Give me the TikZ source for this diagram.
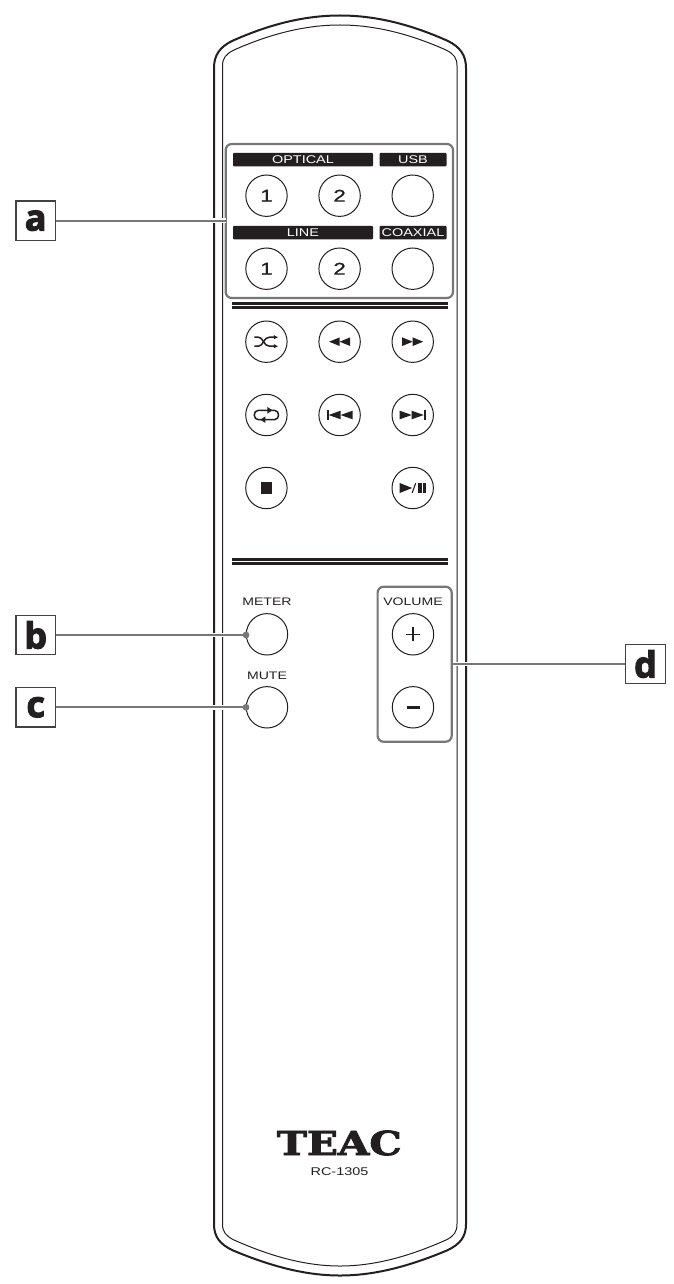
\documentclass[tikz,border=0pt]{standalone}
\usepackage{fontspec}
\usepackage{graphicx}
\setmainfont{Liberation Sans}
\newfontfamily\widesans[FakeStretch=1.29]{Liberation Sans}
\newfontfamily\digitfont[FakeStretch=1.3,FakeBold=1.3]{Liberation Sans}
\newfontfamily\tagfont[FakeBold=3]{Open Sans}
\newfontfamily\logofont[FakeBold=2.5]{DejaVu Serif}
\usetikzlibrary{arrows.meta}
\definecolor{ink}{HTML}{231F20}
\definecolor{callout}{HTML}{777777}
\tikzset{
  bodyline/.style={draw=ink,line width=2pt},
  innerline/.style={draw=ink,line width=1pt},
  btn/.style={circle,draw=ink,line width=1pt,minimum size=41.4pt,inner sep=0pt,font=\digitfont\fontsize{17}{17}\selectfont,text=ink},
  barlabel/.style={fill=ink,rounded corners=1pt,inner sep=0pt,text=white,font=\widesans\fontsize{11.2}{11.2}\selectfont,minimum height=13.5pt},
  plainlabel/.style={inner sep=0pt,text=ink,font=\widesans\fontsize{10.9}{10.9}\selectfont},
  groupbox/.style={draw=callout,line width=2.2pt,rounded corners=6pt},
  tagbox/.style={draw=ink!85,fill=white,line width=1.4pt,minimum width=39.5pt,minimum height=39.5pt,inner sep=0pt,text=ink,font=\tagfont\bfseries\fontsize{36}{36}\selectfont},
  leader/.style={draw=callout,line width=2.2pt},
  halo/.style={draw=white,line width=4.5pt},
  tagdot/.style={circle,fill=callout,inner sep=0pt,minimum size=6.8pt},
  glyph/.style={fill=ink,draw=none},
  glyphline/.style={draw=ink,line width=1.5pt},
}
\begin{document}
\begin{tikzpicture}[x=1pt,y=-1pt]
\useasboundingbox (0,0) rectangle (673,1284);
% body outline
\path[bodyline] (214,68) -- (214,1224)
  .. controls (214,1237) and (220,1244) .. (232,1250)
  .. controls (270,1266) and (305,1275.5) .. (340,1275.5)
  .. controls (375,1275.5) and (410,1266) .. (448,1250)
  .. controls (460,1244) and (466,1237) .. (466,1224)
  -- (466,68)
  .. controls (466,55) and (460,47) .. (448,41)
  .. controls (410,24) and (375,15.5) .. (340,15.5)
  .. controls (305,15.5) and (270,24) .. (232,41)
  .. controls (220,47) and (214,55) .. cycle;
\path[innerline] (222.5,66) -- (222.5,1224)
  .. controls (222.5,1232) and (226,1236) .. (234,1240)
  .. controls (270,1256) and (305,1266) .. (340,1266)
  .. controls (375,1266) and (410,1256) .. (446,1240)
  .. controls (454,1236) and (457,1232) .. (457,1224)
  -- (457,66)
  .. controls (457,58) and (454,54) .. (446,50)
  .. controls (410,34) and (375,25) .. (340,25)
  .. controls (305,25) and (270,34) .. (234,50)
  .. controls (226,54) and (222.5,58) .. cycle;
% group a
\draw[groupbox,fill=white] (225.7,144) rectangle (453,298);
\node[barlabel,minimum width=140pt] (optical) at (303,159.7) {OPTICAL};
\node[barlabel,minimum width=67pt] (usb) at (413,159.7) {USB};
\node[barlabel,minimum width=140pt] (line) at (303,232.7) {LINE};
\node[barlabel,minimum width=67pt] (coaxial) at (413,232.7) {COAXIAL};
\node[btn] (o1) at (266.5,195.7) {1};
\node[btn] (o2) at (339.6,195.7) {2};
\node[btn] (ousb) at (412.7,195.7) {};
\node[btn] (l1) at (266.5,268.7) {1};
\node[btn] (l2) at (339.6,268.7) {2};
\node[btn] (lco) at (412.7,268.7) {};
% rules
\fill[ink] (232,302) rectangle (448,305);
\fill[ink] (232,306) rectangle (448,309);
\fill[ink] (232,557.7) rectangle (448,561);
\fill[ink] (232,562) rectangle (448,565);
% transport buttons
\node[btn] (shuffle) at (266.4,341.7) {};
\node[btn] (rew) at (339.6,341.7) {};
\node[btn] (ffw) at (412.7,341.7) {};
\node[btn] (repeatb) at (266.4,415) {};
\node[btn] (prev) at (339.6,415) {};
\node[btn] (next) at (412.7,415) {};
\node[btn] (stopb) at (266.4,488) {};
\node[btn] (playb) at (412.7,488) {};
% shuffle icon
\begin{scope}[shift={(shuffle.center)}]
  \draw[glyphline,-{Latex[length=4.5pt,width=4.5pt]}] (-12,-4.5) -- (-8,-4.5) .. controls (-3,-4.5) and (-3,4.5) .. (3,4.5) -- (12,4.5);
  \draw[glyphline,-{Latex[length=4.5pt,width=4.5pt]}] (-12,4.5) -- (-8,4.5) .. controls (-3,4.5) and (-3,-4.5) .. (3,-4.5) -- (12,-4.5);
\end{scope}
% repeat icon
\begin{scope}[shift={(repeatb.center)}]
  \draw[glyphline] (2,-4.7) -- (-8,-4.7) .. controls (-13.5,-4.7) and (-13.5,4.7) .. (-8,4.7) -- (-2,4.7);
  \draw[glyphline] (-2,4.7) -- (8,4.7) .. controls (13.5,4.7) and (13.5,-4.7) .. (8,-4.7) -- (2,-4.7);
  \fill[glyph] (6,-4.7) -- (1,-8) -- (1,-1.4) -- cycle;
  \fill[glyph] (-6,4.7) -- (-1,1.4) -- (-1,8) -- cycle;
\end{scope}
% rew
\begin{scope}[shift={(rew.center)}]
  \fill[glyph] (-10.5,0) -- (0,-4.3) -- (0,4.3) -- cycle;
  \fill[glyph] (0,0) -- (10.5,-4.3) -- (10.5,4.3) -- cycle;
\end{scope}
% ffw
\begin{scope}[shift={(ffw.center)}]
  \fill[glyph] (10.5,0) -- (0,-4.3) -- (0,4.3) -- cycle;
  \fill[glyph] (0,0) -- (-10.5,-4.3) -- (-10.5,4.3) -- cycle;
\end{scope}
% prev
\begin{scope}[shift={(prev.center)}]
  \fill[glyph] (-13,-4.6) rectangle (-10.8,4.6);
  \fill[glyph] (-11,0) -- (1,-4.3) -- (1,4.3) -- cycle;
  \fill[glyph] (1,0) -- (13,-4.3) -- (13,4.3) -- cycle;
\end{scope}
% next
\begin{scope}[shift={(next.center)}]
  \fill[glyph] (13,-4.6) rectangle (10.8,4.6);
  \fill[glyph] (11,0) -- (-1,-4.3) -- (-1,4.3) -- cycle;
  \fill[glyph] (-1,0) -- (-13,-4.3) -- (-13,4.3) -- cycle;
\end{scope}
% stop
\fill[glyph] ([shift={(-5.6,-5.6)}]stopb.center) rectangle ([shift={(5.6,5.6)}]stopb.center);
% play/pause
\begin{scope}[shift={(playb.center)}]
  \fill[glyph] (-13,-5) -- (-0.5,0) -- (-13,5) -- cycle;
  \draw[ink,line width=1.1pt] (-0.5,4.8) -- (3,-4.8);
  \fill[glyph] (5.3,-4.6) rectangle (8.8,4.6);
  \fill[glyph] (9.8,-4.6) rectangle (13.3,4.6);
\end{scope}
% meter, mute
\node[plainlabel] (meterlabel) at (267,602) {METER};
\node[btn] (meter) at (267,634.3) {};
\node[plainlabel] (mutelabel) at (267,675.7) {MUTE};
\node[btn] (mute) at (267,707.3) {};
% volume
\draw[groupbox,fill=white] (377.6,586.7) rectangle (451.7,741.7);
\coordinate (volgroup) at (451.7,664);
\node[plainlabel] (vollabel) at (413,602) {VOLUME};
\node[btn] (plus) at (413,634.3) {};
\node[btn] (minus) at (413,707.3) {};
\draw[ink,line width=1.4pt] ([xshift=-7pt]plus.center) -- ([xshift=7pt]plus.center);
\draw[ink,line width=1.4pt] ([yshift=-7pt]plus.center) -- ([yshift=7pt]plus.center);
\draw[ink,line width=2.8pt] ([xshift=-6.5pt]minus.center) -- ([xshift=6.5pt]minus.center);
% tags
\node[tagbox] (taga) at (35.7,220.7) {a};
\node[tagbox] (tagb) at (35.7,635) {b};
\node[tagbox] (tagc) at (35.7,707.3) {c};
\node[tagbox] (tagd) at (645.5,664) {d};
% connectors
\coordinate (groupa) at (225.7,220.7);
\node[tagdot] (dotb) at (246,635) {};
\node[tagdot] (dotc) at (246,707.3) {};
\draw[halo] ([xshift=-16pt]groupa) -- (groupa);
\draw[halo] ([xshift=-39pt]dotb.center) -- ([xshift=-18pt]dotb.center);
\draw[halo] ([xshift=-39pt]dotc.center) -- ([xshift=-18pt]dotc.center);
\draw[halo] ([xshift=2pt]volgroup) -- ([xshift=20pt]volgroup);
\draw[leader] (taga.east) -- (groupa);
\draw[leader] (tagb.east) -- (dotb.center);
\draw[leader] (tagc.east) -- (dotc.center);
\draw[leader] (volgroup) -- (tagd.west);
% logo
\node[inner sep=0pt,text=ink] (teac) at (339.3,1143) {\resizebox{125pt}{24.5pt}{\logofont\bfseries TEAC}};
\node[inner sep=0pt,text=ink,font=\widesans\fontsize{11.2}{11.2}\selectfont] (model) at (339.5,1171.5) {RC-1305};
\end{tikzpicture}
\end{document}
